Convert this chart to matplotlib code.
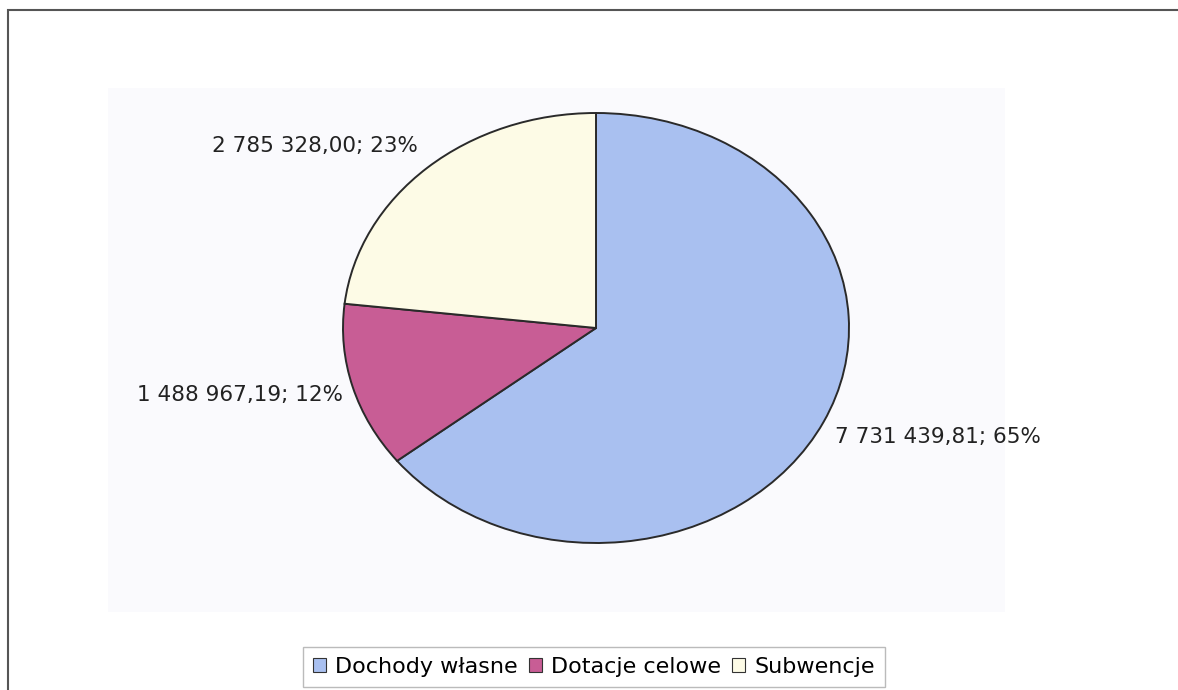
import matplotlib.pyplot as plt
from matplotlib.patches import Rectangle

# data
categories = ['Dochody własne', 'Dotacje celowe', 'Subwencje']
values = [7731439.81, 1488967.19, 2785328.00]
value_labels = ['7 731 439,81', '1 488 967,19', '2 785 328,00']
percent_labels = ['65%', '12%', '23%']

colors = ['#a9c0f0', '#c85d95', '#fdfbe6']

# label anchors (in pie data units) and alignment
label_pos = [(0.945, -0.507, 'left'), (-1.0, -0.312, 'right'), (-0.704, 0.847, 'right')]

W, H = 1178, 690
fig = plt.figure(figsize=(W / 100, H / 100), dpi=100)
fig.patch.set_facecolor('white')
plt.rcParams['font.family'] = ['DejaVu Sans']

# faint plot area background
fig.patches.append(Rectangle((108 / W, 1 - 612 / H), (1005 - 108) / W, (612 - 88) / H,
                             transform=fig.transFigure, facecolor='#fafafd',
                             edgecolor='none', zorder=-5))
# outer chart border (runs off the right and bottom edges)
fig.patches.append(Rectangle((8 / W, -0.05), 1.2, 1 - 10 / H + 0.05,
                             transform=fig.transFigure, facecolor='none',
                             edgecolor='#555555', linewidth=1.5, zorder=-4))

cx, cy, rx, ry = 596, 328, 253, 215
ax = fig.add_axes([(cx - rx) / W, 1 - (cy + ry) / H, 2 * rx / W, 2 * ry / H])
ax.set_facecolor('none')

wedges, _ = ax.pie(values, colors=colors, startangle=90, counterclock=False,
                   wedgeprops=dict(edgecolor='#2a2a2a', linewidth=1.4))
ax.set_aspect('auto')
ax.set_xlim(-1, 1)
ax.set_ylim(-1, 1)
ax.axis('off')

for (x, y, ha), v, p in zip(label_pos, value_labels, percent_labels):
    ax.text(x, y, f'{v}; {p}', ha=ha, va='center', fontsize=15.5,
            color='#222222', clip_on=False)

leg = fig.legend(wedges, categories, loc='center', bbox_to_anchor=(0.504, 0.0334),
                 ncol=3, fontsize=16, frameon=True, fancybox=False,
                 handlelength=0.6, handleheight=0.6, handletextpad=0.4,
                 columnspacing=0.5, borderpad=0.45)
leg.get_frame().set_edgecolor('#aaaaaa')
leg.get_frame().set_linewidth(1.0)
for h in leg.legend_handles:
    h.set_edgecolor('#333333')
    h.set_linewidth(0.8)

fig.savefig('out.png', dpi=100)
